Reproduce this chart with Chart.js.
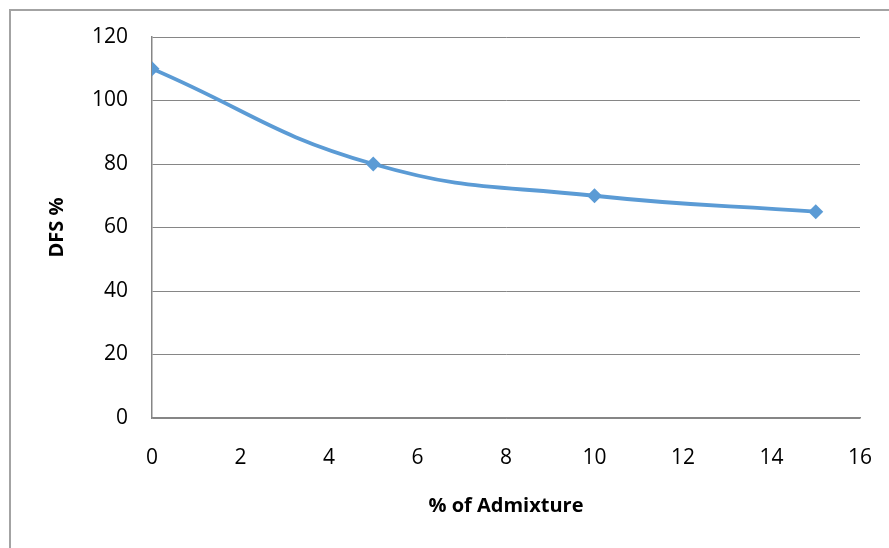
<!DOCTYPE html>
<html>
<head>
<meta charset="utf-8">
<title>DFS %</title>
<script src="https://cdn.jsdelivr.net/npm/chart.js@4"></script>
<style>
  html, body { margin: 0; padding: 0; background: #fff; overflow: hidden; }
  #frame {
    position: absolute; left: 9px; top: 9px;
    width: 1000px; height: 1000px;
    border: 2px solid #a3a3a3;
  }
  #wrap { position: absolute; left: 0; top: 0; width: 889px; height: 548px; }
</style>
</head>
<body>
<div id="frame"></div>
<div id="wrap"><canvas id="dfsChart" width="889" height="548"></canvas></div>
<script>
// admixture content vs DFS
const admixture = [0, 5, 10, 15];
const dfs = [110, 80, 70, 65];
const xTicks = [0, 2, 4, 6, 8, 10, 12, 14, 16];
const yTicks = [0, 20, 40, 60, 80, 100, 120];

const blue = '#5b9bd5';
const fontFamily = '"Open Sans", "Liberation Sans", sans-serif';

const ctx = document.getElementById('dfsChart').getContext('2d');
new Chart(ctx, {
  type: 'scatter',
  data: {
    datasets: [{
      label: 'DFS %',
      data: admixture.map((x, i) => ({ x: x, y: dfs[i] })),
      showLine: true,
      tension: 0.45,
      borderColor: blue,
      borderWidth: 3.8,
      backgroundColor: blue,
      pointStyle: 'rectRot',
      pointRadius: 7.5,
      pointBorderWidth: 0,
    }],
  },
  options: {
    responsive: false,
    animation: false,
    layout: { padding: { left: 0, top: 37, right: 29, bottom: 0 } },
    plugins: { legend: { display: false }, tooltip: { enabled: false } },
    scales: {
      x: {
        type: 'linear',
        min: xTicks[0],
        max: xTicks[xTicks.length - 1],
        afterBuildTicks: (scale) => { scale.ticks = xTicks.map(v => ({ value: v })); },
        afterFit: (scale) => {
          scale.height = 130;
          // keep the end labels from pushing the plot area inwards
          scale.paddingLeft = 0;
          scale.paddingRight = 0;
        },
        grid: { display: false, drawTicks: false },
        border: { display: true, color: '#868686', width: 1.5 },
        ticks: { color: '#000', padding: 27, font: { family: fontFamily, size: 21 } },
        title: {
          display: true,
          text: '% of Admixture',
          color: '#000',
          font: { family: fontFamily, size: 20, weight: 'bold' },
          padding: { top: 0, bottom: 30 },
        },
      },
      y: {
        min: yTicks[0],
        max: yTicks[yTicks.length - 1],
        afterBuildTicks: (scale) => { scale.ticks = yTicks.map(v => ({ value: v })); },
        afterFit: (scale) => { scale.width = 152; },
        grid: { color: '#868686', lineWidth: 1, drawTicks: false },
        border: { display: true, color: '#868686', width: 1.5 },
        ticks: { color: '#000', padding: 24, font: { family: fontFamily, size: 21 } },
        title: {
          display: true,
          text: 'DFS %',
          color: '#000',
          font: { family: fontFamily, size: 20, weight: 'bold' },
          padding: { top: 45, bottom: 0 },
        },
      },
    },
  },
});
</script>
</body>
</html>
